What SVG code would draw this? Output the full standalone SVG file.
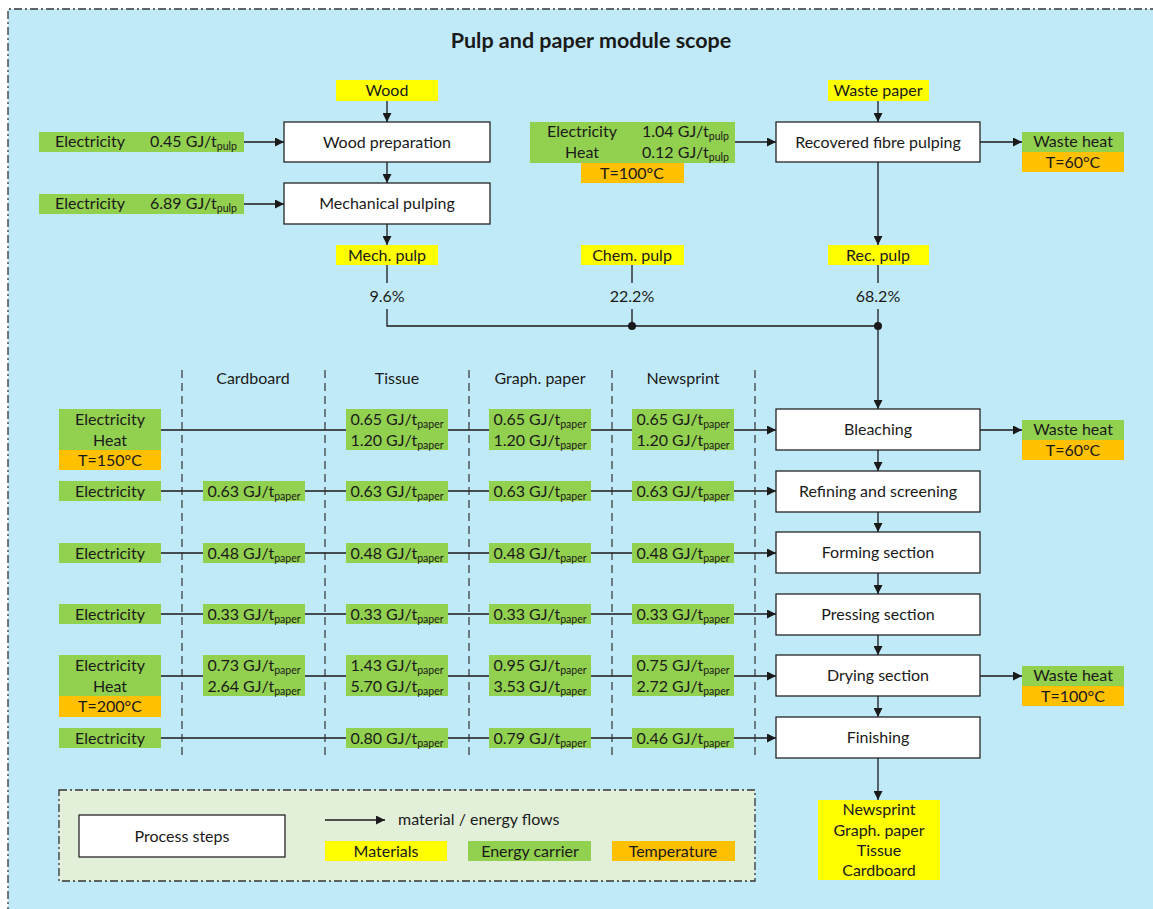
<svg xmlns="http://www.w3.org/2000/svg" width="1153" height="909" viewBox="0 0 1153 909">
<defs>
<marker id="ah" viewBox="0 0 10 10" refX="10" refY="5" markerWidth="10" markerHeight="9" markerUnits="userSpaceOnUse" orient="auto">
<path d="M0,0 L10,5 L0,10 z" fill="#1a1a1a"/>
</marker>
</defs>
<style>
text{font-family:Lato,"Liberation Sans",sans-serif;font-size:16px;fill:#1a1a1a}
.t{text-anchor:middle}
.sub{font-size:10.5px}
.title{font-weight:bold;font-size:21.5px}
.proc{fill:#ffffff;stroke:#262626;stroke-width:1.3}
.mat{fill:#ffff00}
.en{fill:#92d050}
.temp{fill:#ffc000}
.ln{stroke:#1a1a1a;stroke-width:1.3;fill:none}
.ar{stroke:#1a1a1a;stroke-width:1.3;fill:none;marker-end:url(#ah)}
.col{stroke:#333;stroke-width:1.2;stroke-dasharray:8 5;fill:none}
.dd{stroke:#333;stroke-width:1.3;stroke-dasharray:8 3 2 3}
</style>
<rect x="8" y="9" width="1150" height="905" fill="#c1eaf9"/>
<path d="M8,915 L8,9 L1160,9" class="dd" fill="none"/>
<text class="t title" x="591" y="48">Pulp and paper module scope</text>

<g id="connectors">
<path class="ar" d="M387,101 V122"/>
<path class="ar" d="M387,162 V183"/>
<path class="ar" d="M387,224 V245"/>
<path class="ar" d="M244,142 H284"/>
<path class="ar" d="M244,204 H284"/>
<path class="ar" d="M878,101 V122"/>
<path class="ar" d="M735,142 H776"/>
<path class="ar" d="M980,142 H1022"/>
<path class="ar" d="M878,162 V245"/>
<path class="ln" d="M387,265 V283 M387,309 V326 H878"/>
<path class="ln" d="M632,265 V283 M632,309 V326"/>
<path class="ln" d="M878,265 V283"/>
<path class="ar" d="M878,309 V409"/>
<circle cx="632" cy="326" r="4" fill="#1a1a1a"/>
<circle cx="878" cy="326" r="4" fill="#1a1a1a"/>
<path class="ar" d="M878,450 V471"/>
<path class="ar" d="M878,512 V532"/>
<path class="ar" d="M878,573 V594"/>
<path class="ar" d="M878,635 V655"/>
<path class="ar" d="M878,696 V717"/>
<path class="ar" d="M878,758 V800"/>
<path class="ar" d="M980,430 H1022"/>
<path class="ar" d="M980,676 H1022"/>
<path class="ar" d="M161,430 H776"/>
<path class="ar" d="M161,491 H776"/>
<path class="ar" d="M161,553 H776"/>
<path class="ar" d="M161,614 H776"/>
<path class="ar" d="M161,676 H776"/>
<path class="ar" d="M161,738 H776"/>
</g>

<g id="columns">
<path class="col" d="M182,370 V758"/>
<path class="col" d="M325,370 V758"/>
<path class="col" d="M469,370 V758"/>
<path class="col" d="M612,370 V758"/>
<path class="col" d="M755,370 V758"/>
<text class="t" x="253" y="384">Cardboard</text>
<text class="t" x="397" y="384">Tissue</text>
<text class="t" x="540" y="384">Graph. paper</text>
<text class="t" x="683" y="384">Newsprint</text>
</g>

<g id="wood"><rect class="mat" x="336" y="80" width="102" height="21"/><text class="t" x="387" y="96">Wood</text></g>
<g id="wood-preparation"><rect class="proc" x="284" y="122" width="206" height="40"/><text class="t" x="387" y="148">Wood preparation</text></g>
<g id="mechanical-pulping"><rect class="proc" x="284" y="183" width="206" height="41"/><text class="t" x="387" y="209">Mechanical pulping</text></g>
<g id="elec-wood"><rect class="en" x="39" y="132" width="205" height="20"/><text class="t" x="90" y="147">Electricity</text><text x="150" y="147">0.45 GJ/t<tspan class="sub" dy="3">pulp</tspan></text></g>
<g id="elec-mech"><rect class="en" x="39" y="194" width="205" height="20"/><text class="t" x="90" y="209">Electricity</text><text x="150" y="209">6.89 GJ/t<tspan class="sub" dy="3">pulp</tspan></text></g>
<g id="mech-pulp"><rect class="mat" x="336" y="245" width="102" height="20"/><text class="t" x="387" y="261">Mech. pulp</text><text class="t" x="387" y="302">9.6%</text></g>
<g id="chem-pulp"><rect class="mat" x="581" y="245" width="103" height="20"/><text class="t" x="632" y="261">Chem. pulp</text><text class="t" x="632" y="302">22.2%</text></g>
<g id="rec-pulp"><rect class="mat" x="828" y="245" width="101" height="20"/><text class="t" x="878" y="261">Rec. pulp</text><text class="t" x="878" y="302">68.2%</text></g>
<g id="waste-paper"><rect class="mat" x="828" y="80" width="101" height="21"/><text class="t" x="878" y="96">Waste paper</text></g>
<g id="recovered-fibre-pulping"><rect class="proc" x="776" y="122" width="204" height="40"/><text class="t" x="878" y="148">Recovered fibre pulping</text></g>
<g id="energy-rec"><rect class="en" x="530" y="122" width="205" height="41"/><rect class="temp" x="581" y="163" width="103" height="20"/>
<text class="t" x="582" y="137">Electricity</text><text x="642" y="137">1.04 GJ/t<tspan class="sub" dy="3">pulp</tspan></text>
<text class="t" x="582" y="158">Heat</text><text x="642" y="158">0.12 GJ/t<tspan class="sub" dy="3">pulp</tspan></text>
<text class="t" x="632" y="179">T=100°C</text></g>
<g id="waste-heat-1"><rect class="en" x="1022" y="132" width="102" height="20"/><rect class="temp" x="1022" y="152" width="102" height="20"/><text class="t" x="1073" y="147">Waste heat</text><text class="t" x="1073" y="168">T=60°C</text></g>

<g id="bleaching"><rect class="proc" x="776" y="409" width="204" height="41"/><text class="t" x="878" y="435">Bleaching</text></g>
<g id="refining"><rect class="proc" x="776" y="471" width="204" height="41"/><text class="t" x="878" y="497">Refining and screening</text></g>
<g id="forming"><rect class="proc" x="776" y="532" width="204" height="41"/><text class="t" x="878" y="558">Forming section</text></g>
<g id="pressing"><rect class="proc" x="776" y="594" width="204" height="41"/><text class="t" x="878" y="620">Pressing section</text></g>
<g id="drying"><rect class="proc" x="776" y="655" width="204" height="41"/><text class="t" x="878" y="681">Drying section</text></g>
<g id="finishing"><rect class="proc" x="776" y="717" width="204" height="41"/><text class="t" x="878" y="743">Finishing</text></g>
<g id="waste-heat-2"><rect class="en" x="1022" y="420" width="102" height="20"/><rect class="temp" x="1022" y="440" width="102" height="20"/><text class="t" x="1073" y="435">Waste heat</text><text class="t" x="1073" y="456">T=60°C</text></g>
<g id="waste-heat-3"><rect class="en" x="1022" y="666" width="102" height="20"/><rect class="temp" x="1022" y="686" width="102" height="20"/><text class="t" x="1073" y="681">Waste heat</text><text class="t" x="1073" y="702">T=100°C</text></g>

<g id="row-bleaching">
<rect class="en" x="59" y="409" width="102" height="41"/><rect class="temp" x="59" y="450" width="102" height="20"/>
<text class="t" x="110" y="425">Electricity</text><text class="t" x="110" y="446">Heat</text><text class="t" x="110" y="466">T=150°C</text>
<rect class="en" x="346" y="409" width="102" height="41"/><text class="t" x="397" y="425">0.65 GJ/t<tspan class="sub" dy="3">paper</tspan></text><text class="t" x="397" y="446">1.20 GJ/t<tspan class="sub" dy="3">paper</tspan></text>
<rect class="en" x="489" y="409" width="102" height="41"/><text class="t" x="540" y="425">0.65 GJ/t<tspan class="sub" dy="3">paper</tspan></text><text class="t" x="540" y="446">1.20 GJ/t<tspan class="sub" dy="3">paper</tspan></text>
<rect class="en" x="632" y="409" width="102" height="41"/><text class="t" x="683" y="425">0.65 GJ/t<tspan class="sub" dy="3">paper</tspan></text><text class="t" x="683" y="446">1.20 GJ/t<tspan class="sub" dy="3">paper</tspan></text>
</g>
<g id="row-refining">
<rect class="en" x="59" y="481" width="102" height="20"/><text class="t" x="110" y="497">Electricity</text>
<rect class="en" x="203" y="481" width="102" height="20"/><text class="t" x="254" y="497">0.63 GJ/t<tspan class="sub" dy="3">paper</tspan></text>
<rect class="en" x="346" y="481" width="102" height="20"/><text class="t" x="397" y="497">0.63 GJ/t<tspan class="sub" dy="3">paper</tspan></text>
<rect class="en" x="489" y="481" width="102" height="20"/><text class="t" x="540" y="497">0.63 GJ/t<tspan class="sub" dy="3">paper</tspan></text>
<rect class="en" x="632" y="481" width="102" height="20"/><text class="t" x="683" y="497">0.63 GJ/t<tspan class="sub" dy="3">paper</tspan></text>
</g>
<g id="row-forming">
<rect class="en" x="59" y="543" width="102" height="20"/><text class="t" x="110" y="559">Electricity</text>
<rect class="en" x="203" y="543" width="102" height="20"/><text class="t" x="254" y="559">0.48 GJ/t<tspan class="sub" dy="3">paper</tspan></text>
<rect class="en" x="346" y="543" width="102" height="20"/><text class="t" x="397" y="559">0.48 GJ/t<tspan class="sub" dy="3">paper</tspan></text>
<rect class="en" x="489" y="543" width="102" height="20"/><text class="t" x="540" y="559">0.48 GJ/t<tspan class="sub" dy="3">paper</tspan></text>
<rect class="en" x="632" y="543" width="102" height="20"/><text class="t" x="683" y="559">0.48 GJ/t<tspan class="sub" dy="3">paper</tspan></text>
</g>
<g id="row-pressing">
<rect class="en" x="59" y="604" width="102" height="20"/><text class="t" x="110" y="620">Electricity</text>
<rect class="en" x="203" y="604" width="102" height="20"/><text class="t" x="254" y="620">0.33 GJ/t<tspan class="sub" dy="3">paper</tspan></text>
<rect class="en" x="346" y="604" width="102" height="20"/><text class="t" x="397" y="620">0.33 GJ/t<tspan class="sub" dy="3">paper</tspan></text>
<rect class="en" x="489" y="604" width="102" height="20"/><text class="t" x="540" y="620">0.33 GJ/t<tspan class="sub" dy="3">paper</tspan></text>
<rect class="en" x="632" y="604" width="102" height="20"/><text class="t" x="683" y="620">0.33 GJ/t<tspan class="sub" dy="3">paper</tspan></text>
</g>
<g id="row-drying">
<rect class="en" x="59" y="655" width="102" height="41"/><rect class="temp" x="59" y="696" width="102" height="21"/>
<text class="t" x="110" y="671">Electricity</text><text class="t" x="110" y="692">Heat</text><text class="t" x="110" y="712">T=200°C</text>
<rect class="en" x="203" y="655" width="102" height="41"/><text class="t" x="254" y="671">0.73 GJ/t<tspan class="sub" dy="3">paper</tspan></text><text class="t" x="254" y="692">2.64 GJ/t<tspan class="sub" dy="3">paper</tspan></text>
<rect class="en" x="346" y="655" width="102" height="41"/><text class="t" x="397" y="671">1.43 GJ/t<tspan class="sub" dy="3">paper</tspan></text><text class="t" x="397" y="692">5.70 GJ/t<tspan class="sub" dy="3">paper</tspan></text>
<rect class="en" x="489" y="655" width="102" height="41"/><text class="t" x="540" y="671">0.95 GJ/t<tspan class="sub" dy="3">paper</tspan></text><text class="t" x="540" y="692">3.53 GJ/t<tspan class="sub" dy="3">paper</tspan></text>
<rect class="en" x="632" y="655" width="102" height="41"/><text class="t" x="683" y="671">0.75 GJ/t<tspan class="sub" dy="3">paper</tspan></text><text class="t" x="683" y="692">2.72 GJ/t<tspan class="sub" dy="3">paper</tspan></text>
</g>
<g id="row-finishing">
<rect class="en" x="59" y="728" width="102" height="20"/><text class="t" x="110" y="744">Electricity</text>
<rect class="en" x="346" y="728" width="102" height="20"/><text class="t" x="397" y="744">0.80 GJ/t<tspan class="sub" dy="3">paper</tspan></text>
<rect class="en" x="489" y="728" width="102" height="20"/><text class="t" x="540" y="744">0.79 GJ/t<tspan class="sub" dy="3">paper</tspan></text>
<rect class="en" x="632" y="728" width="102" height="20"/><text class="t" x="683" y="744">0.46 GJ/t<tspan class="sub" dy="3">paper</tspan></text>
</g>

<g id="products"><rect class="mat" x="818" y="800" width="122" height="80"/>
<text class="t" x="879" y="815">Newsprint</text><text class="t" x="879" y="836">Graph. paper</text><text class="t" x="879" y="856">Tissue</text><text class="t" x="879" y="876">Cardboard</text></g>

<g id="legend">
<rect x="59" y="790" width="696" height="91" fill="#e2f0d9" class="dd"/>
<rect class="proc" x="79" y="815" width="206" height="42"/><text class="t" x="182" y="842">Process steps</text>
<path class="ar" d="M325,820 H385"/><text x="398" y="825">material / energy flows</text>
<rect class="mat" x="325" y="841" width="122" height="20"/><text class="t" x="386" y="857">Materials</text>
<rect class="en" x="468" y="841" width="123" height="20"/><text class="t" x="530" y="857">Energy carrier</text>
<rect class="temp" x="612" y="841" width="123" height="20"/><text class="t" x="673" y="857">Temperature</text>
</g>
</svg>
